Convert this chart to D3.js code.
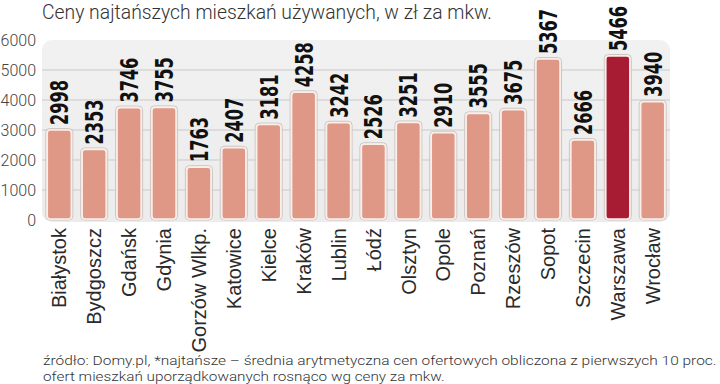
<!DOCTYPE html>
<html><head><meta charset="utf-8">
<script src="https://cdn.jsdelivr.net/npm/d3@7"></script>
<style>
html,body{margin:0;padding:0;background:#fff;}
svg{display:block;}
</style>
</head><body>
<svg id="c" width="720" height="384"></svg>
<script>
const categories = ["Białystok","Bydgoszcz","Gdańsk","Gdynia","Gorzów Wlkp.","Katowice","Kielce","Kraków","Lublin","Łódź","Olsztyn","Opole","Poznań","Rzeszów","Sopot","Szczecin","Warszawa","Wrocław"];
const values = [2998,2353,3746,3755,1763,2407,3181,4258,3242,2526,3251,2910,3555,3675,5367,2666,5466,3940];
const highlight = ["Warszawa"];
const yTicks = [0,1000,2000,3000,4000,5000,6000];
const title = "Ceny najtańszych mieszkań używanych, w zł za mkw.";
const footer = ["źródło: Domy.pl, *najtańsze – średnia arytmetyczna cen ofertowych obliczona z pierwszych 10 proc.",
                "ofert mieszkań uporządkowanych rosnąco wg ceny za mkw."];

const svg = d3.select("#c");
const left = 42, right = 670;
const x = d3.scaleBand().domain(categories).range([left, right]).paddingInner(0.31).paddingOuter(0.15);
const y = d3.scaleLinear().domain([0, 6000]).range([220, 40]);

// title
svg.append("text").attr("x", 42).attr("y", 19)
  .attr("font-family", "Roboto, 'Open Sans', sans-serif").attr("font-weight", 300)
  .attr("font-size", 21).attr("fill", "#333")
  .attr("textLength", 450).attr("lengthAdjust", "spacingAndGlyphs")
  .text(title);

// plot background
const defs = svg.append("defs");
const g1 = defs.append("linearGradient").attr("id","bg").attr("x1",0).attr("y1",0).attr("x2",0).attr("y2",1);
g1.append("stop").attr("offset","0").attr("stop-color","#f1f1f1");
g1.append("stop").attr("offset","1").attr("stop-color","#ececec");
svg.append("rect").attr("x", left).attr("y", y(6000)).attr("width", right - left).attr("height", y(0) - y(6000) + 2)
  .attr("rx", 10).attr("fill", "url(#bg)");

// gridlines
svg.append("g").selectAll("line").data(yTicks.filter(d => d > 0 && d < 6000)).join("line")
  .attr("x1", left).attr("x2", right).attr("y1", d => y(d)).attr("y2", d => y(d))
  .attr("stroke", "#c9c9c9").attr("stroke-width", 1);

// y axis
const yAxis = svg.append("g").attr("transform", `translate(${left},0)`)
  .call(d3.axisLeft(y).tickValues(yTicks).tickSize(0).tickPadding(6).tickFormat(d3.format("d")));
yAxis.select(".domain").remove();
yAxis.selectAll("text").attr("font-family", "Roboto, 'Liberation Sans', sans-serif").attr("font-weight", 300)
  .attr("font-size", 16).attr("fill", "#444");

// bars shadow/outline
const bars = svg.append("g");
bars.selectAll("rect.sh").data(categories).join("rect").attr("class","sh")
  .attr("x", d => x(d) - 1.5).attr("y", (d,i) => y(values[i]) - 1.5)
  .attr("width", x.bandwidth() + 3).attr("height", (d,i) => y(0) - y(values[i]) + 1.5)
  .attr("rx", 4).attr("fill", "none").attr("stroke", "#cfc6c4").attr("stroke-width", 1);
bars.selectAll("rect.b").data(categories).join("rect").attr("class","b")
  .attr("x", d => x(d)).attr("y", (d,i) => y(values[i]))
  .attr("width", x.bandwidth()).attr("height", (d,i) => y(0) - y(values[i]) - 1)
  .attr("rx", 3)
  .attr("fill", d => highlight.includes(d) ? "#a81c33" : "#df9886")
  .attr("stroke", "#fbeee9").attr("stroke-width", 1.6);

// value labels (horizontally compressed via scale so bounding box is honest)
const labelLen = 45;
svg.append("g").selectAll("text").data(categories).join("text")
  .attr("dy", "0.36em")
  .attr("font-family", "'Liberation Sans Narrow', 'DejaVu Sans Condensed', 'Liberation Sans', sans-serif")
  .attr("font-weight", "bold").attr("font-size", 25).attr("fill", "#111")
  .text((d,i) => values[i])
  .each(function(d,i){
    const w = this.getComputedTextLength() || labelLen;
    const s = labelLen / w;
    d3.select(this).attr("transform",
      `translate(${x(d) + x.bandwidth()/2},${y(values[i]) - 5}) rotate(-90) scale(${s},1)`);
  });

// x labels
svg.append("g").selectAll("text").data(categories).join("text")
  .attr("transform", d => `translate(${x(d) + x.bandwidth()/2},228) rotate(-90)`)
  .attr("dy", "0.36em").attr("text-anchor", "end")
  .attr("font-family", "'Liberation Sans', Arial, sans-serif").attr("font-size", 20).attr("fill", "#2a2a2a")
  .text(d => d);

// footer
const fw = [674, 402];
svg.append("g").selectAll("text").data(footer).join("text")
  .attr("font-family", "Roboto, 'Liberation Sans', sans-serif").attr("font-weight", 300)
  .attr("font-size", 13.5).attr("fill", "#333")
  .text(d => d)
  .each(function(d,i){
    const w = this.getComputedTextLength() || fw[i];
    const s = fw[i] / w;
    d3.select(this).attr("transform", `translate(43,${364.5 + i * 16}) scale(${s},1)`);
  });
</script>
</body></html>
